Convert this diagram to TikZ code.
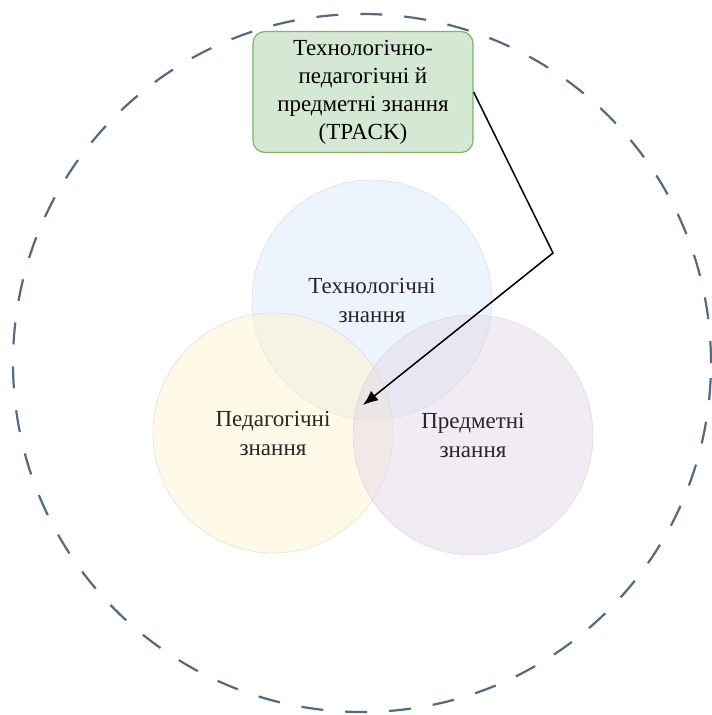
\documentclass[tikz,border=0pt]{standalone}
\usepackage{fontspec}
\setmainfont{Liberation Serif}
\usepackage{xcolor}
\usetikzlibrary{arrows.meta, positioning}

\definecolor{techblue}{HTML}{DAE8FC}
\definecolor{pedyellow}{HTML}{FFF2CC}
\definecolor{subjpurple}{HTML}{E1D5E7}
\definecolor{tpackgreen}{HTML}{D5E8D4}
\definecolor{tpackline}{HTML}{82B366}
\definecolor{outerline}{RGB}{85,105,130}

\begin{document}
\begin{tikzpicture}[x=1pt, y=-1pt]
\tikzstyle{area} = [circle, minimum size=240pt, inner sep=0pt, draw=gray!60, draw opacity=0.5, fill opacity=0.45, text opacity=1, text=black!85, align=center, font=\fontsize{23}{29}\selectfont]
\tikzstyle{tpackbox} = [rectangle, rounded corners=12pt, draw=tpackline, line width=1.2pt, fill=tpackgreen, minimum width=220pt, minimum height=121pt, align=center, font=\fontsize{23}{28}\selectfont]
\tikzstyle{arrow} = [line width=1.5pt, -{Latex[length=15pt, width=12pt]}]

\useasboundingbox (0,0) rectangle (712,715);
\fill[white] (0,0) rectangle (712,715);

% outer dashed border
\node (outer) [circle, minimum size=698pt, draw=outerline, line width=2.2pt, dash pattern=on 22pt off 22pt] at (362,363) {};

% three knowledge areas
\node (tech) [area, fill=techblue] at (372,300) {Технологічні\\знання};
\node (ped) [area, fill=pedyellow] at (273,433) {Педагогічні\\знання};
\node (subj) [area, fill=subjpurple] at (473,435) {Предметні\\знання};

\node (tpack) [tpackbox] at (363,92) {Технологічно-\\педагогічні й\\предметні знання\\(TPACK)};

\coordinate (bend) at (553,253);
\coordinate (tip) at (363,405);
\draw [arrow] (tpack.east) -- (bend) -- (tip);

\end{tikzpicture}
\end{document}
